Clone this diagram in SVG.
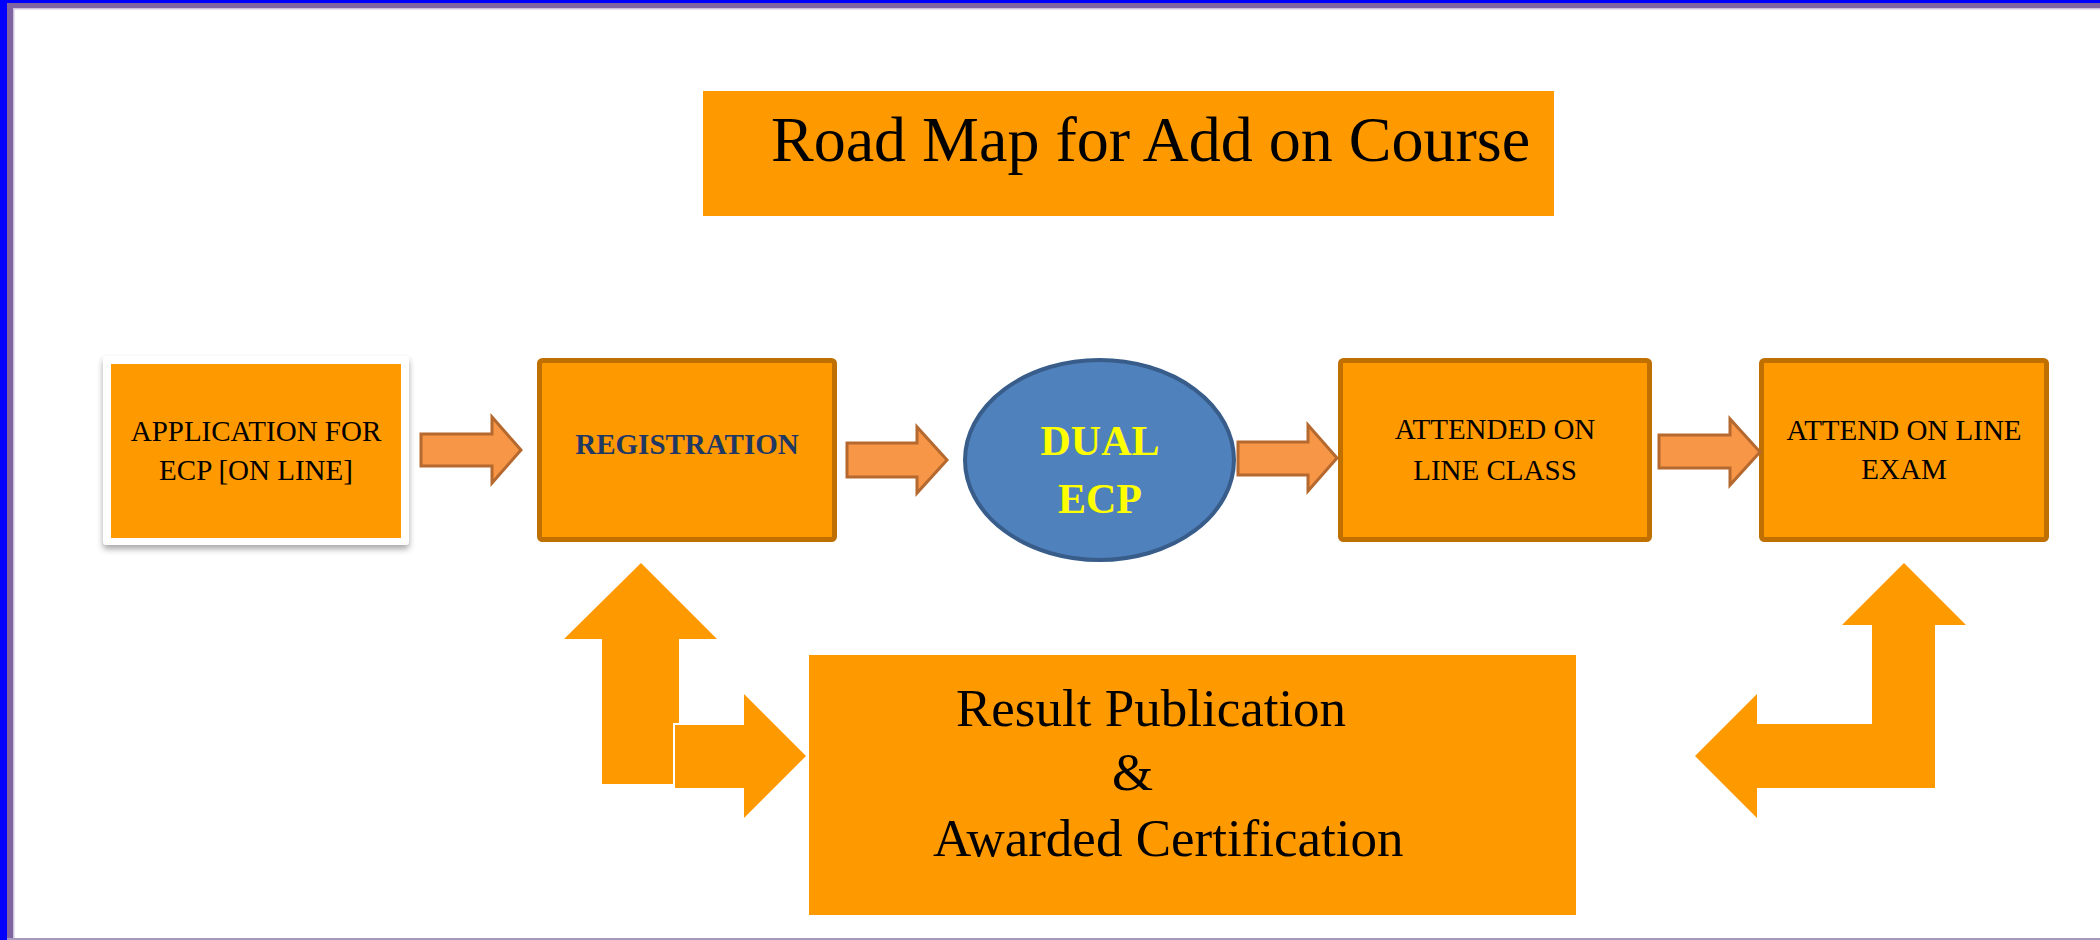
<svg xmlns="http://www.w3.org/2000/svg" width="2100" height="940" viewBox="0 0 2100 940">
<defs>
<style>
.box{fill:#FF9900;stroke:#C07000;stroke-width:5}
.flat{fill:#FF9900}
.sm{font-family:"Liberation Serif","Times New Roman",serif;font-size:29px;fill:#000;text-anchor:middle}
.big{font-family:"Liberation Serif","Times New Roman",serif;fill:#000}
.blk{fill:#F79646;stroke:#B5692F;stroke-width:3;stroke-linejoin:miter}
</style>
<filter id="sh" x="-10%" y="-10%" width="120%" height="125%">
<feDropShadow dx="0" dy="4" stdDeviation="3" flood-color="#000" flood-opacity="0.35"/>
</filter>
</defs>
<rect width="2100" height="940" fill="#fff"/>
<!-- frame -->
<g id="frame">
<rect x="0" y="0" width="2100" height="3" fill="#0000FF"/>
<rect x="0" y="0" width="7" height="940" fill="#0000FF"/>
<rect x="7" y="3" width="2093" height="5" fill="#8064A2"/>
<rect x="7" y="3" width="6" height="937" fill="#8064A2"/>
<rect x="13" y="8" width="2087" height="1.5" fill="#CDC3DC"/>
<rect x="13" y="8" width="1.5" height="932" fill="#CDC3DC"/>
<rect x="7" y="938" width="2093" height="2" fill="#A898C0"/>
</g>
<g id="title">
<rect class="flat" x="703" y="91" width="851" height="125"/>
<text class="big" x="771" y="161" font-size="64">Road Map for Add on Course</text>
</g>
<g id="application">
<rect x="103" y="356" width="306" height="189" rx="4" fill="#fff" filter="url(#sh)"/>
<rect class="flat" x="111" y="364" width="290" height="174"/>
<text class="sm" x="256" y="441">APPLICATION FOR</text>
<text class="sm" x="256" y="480">ECP [ON LINE]</text>
</g>
<g id="registration">
<rect class="box" x="539.5" y="360.5" width="295" height="179" rx="3"/>
<text class="sm" x="687" y="454" font-weight="bold" fill="#1F3864" style="fill:#1F3864">REGISTRATION</text>
</g>
<g id="dual">
<ellipse cx="1099.5" cy="460" rx="134.5" ry="100" fill="#4F81BD" stroke="#385D8A" stroke-width="4"/>
<text class="sm" x="1100" y="455" font-size="42" font-weight="bold" style="fill:#FFFF00;font-size:42px">DUAL</text>
<text class="sm" x="1100" y="513" font-size="42" font-weight="bold" style="fill:#FFFF00;font-size:42px">ECP</text>
</g>
<g id="attended">
<rect class="box" x="1340.5" y="360.5" width="309" height="179" rx="3"/>
<text class="sm" x="1495" y="439">ATTENDED ON</text>
<text class="sm" x="1495" y="480">LINE CLASS</text>
</g>
<g id="exam">
<rect class="box" x="1761.5" y="360.5" width="285" height="179" rx="3"/>
<text class="sm" x="1904" y="440">ATTEND ON LINE</text>
<text class="sm" x="1904" y="479">EXAM</text>
</g>
<g id="result">
<rect class="flat" x="809" y="655" width="767" height="260"/>
<text class="big" x="956" y="726" font-size="53">Result Publication</text>
<text class="big" x="1112" y="790" font-size="53">&amp;</text>
<text class="big" x="933" y="856" font-size="53">Awarded Certification</text>
</g>
<g id="connectors">
<polygon class="blk" points="421,434 492,434 492,417 521,450 492,483 492,466 421,466"/>
<polygon class="blk" points="847,443 917,443 917,427 947,460 917,493 917,477 847,477"/>
<polygon class="blk" points="1238,442 1308,442 1308,425 1337,458 1308,491 1308,475 1238,475"/>
<polygon class="blk" points="1659,435 1730,435 1730,419 1760,452 1730,485 1730,468 1659,468"/>
<polygon class="flat" points="602,784 602,639 564,639 641,563 717,639 679,639 679,723 673,723 673,784"/>
<polygon class="flat" points="675,725 744,725 744,694 806,756 744,818 744,788 675,788"/>
<polygon class="flat" points="1904,563 1966,625 1935,625 1935,788 1757,788 1757,818 1695,756 1757,694 1757,724 1872,724 1872,625 1842,625"/>
</g>
</svg>
